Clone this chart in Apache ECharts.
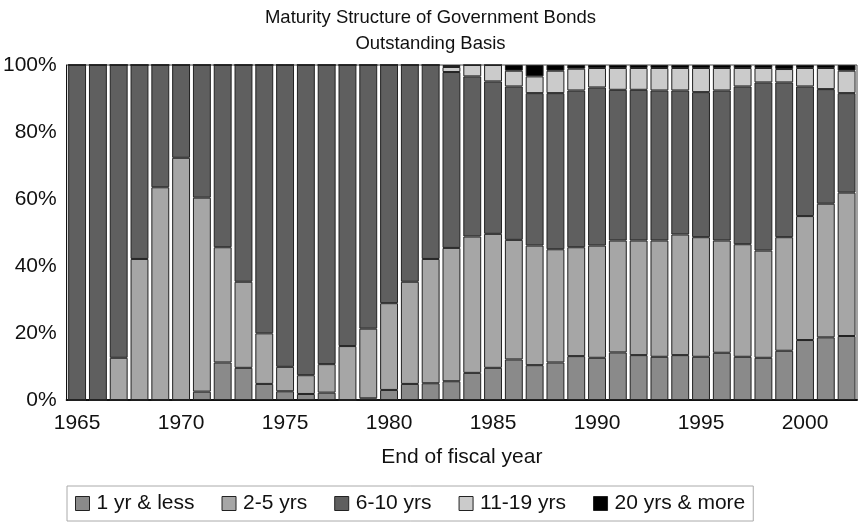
<!DOCTYPE html>
<html>
<head>
<meta charset="utf-8">
<script src="https://cdn.jsdelivr.net/npm/echarts@6/dist/echarts.min.js"></script>
<style>html,body{margin:0;padding:0;background:#fff;}#c{width:861px;height:528px;}</style>
</head>
<body>
<div id="c"></div>
<script>
const years = [];
for (let y = 1965; y <= 2002; y++) years.push(String(y));

const seriesNames = ['1 yr & less', '2-5 yrs', '6-10 yrs', '11-19 yrs', '20 yrs & more'];

const oneYearLess = [0,0,0,0,0,0,2.5,11.2,9.6,4.8,2.6,1.8,2.2,0,0.5,3.0,4.8,5.0,5.6,8.1,9.6,12.1,10.4,11.2,13.1,12.6,14.2,13.4,12.9,13.4,12.9,14.1,12.9,12.6,14.7,17.9,18.7,19.1];
const twoToFive = [0,0,12.6,42.1,63.5,72.3,57.9,34.4,25.7,15.1,7.3,5.6,8.5,16.1,20.8,25.9,30.5,37.1,39.8,40.7,40.0,35.7,35.7,33.8,32.5,33.5,33.4,34.2,34.7,36.0,35.7,33.5,33.6,32.0,33.9,37.0,39.9,42.8];
const sixToTen = [100,100,87.4,57.9,36.5,27.7,39.6,54.4,64.7,80.1,90.1,92.6,89.3,83.9,78.7,71.1,64.7,57.9,52.5,47.8,45.5,45.8,45.5,46.6,46.8,47.2,45.0,45.0,44.8,43.0,43.3,44.8,47.1,50.2,46.2,38.7,34.2,29.7];
const elevenToNineteen = [0,0,0,0,0,0,0,0,0,0,0,0,0,0,0,0,0,0,1.5,3.4,4.9,4.7,5.0,6.7,6.5,5.8,6.5,6.5,6.7,6.7,7.2,6.7,5.5,4.3,4.0,5.5,6.3,6.7];
const twentyPlus = [0,0,0,0,0,0,0,0,0,0,0,0,0,0,0,0,0,0,0.6,0,0,1.7,3.4,1.7,1.1,0.9,0.9,0.9,0.9,0.9,0.9,0.9,0.9,0.9,1.2,0.9,0.9,1.7];

const yTicks = [0, 20, 40, 60, 80, 100];
const colors = ['#8a8a8a', '#a6a6a6', '#5f5f5f', '#cbcbcb', '#000000'];
const seriesData = [oneYearLess, twoToFive, sixToTen, elevenToNineteen, twentyPlus];

const font = 'Liberation Sans, Arial, sans-serif';
const chart = echarts.init(document.getElementById('c'), null, {renderer: 'canvas'});
chart.setOption({
  animation: false,
  backgroundColor: '#ffffff',
  title: {
    text: 'Maturity Structure of Government Bonds\nOutstanding Basis',
    left: 'center',
    top: 0,
    textStyle: {fontFamily: font, fontSize: 18.5, fontWeight: 'normal', color: '#111', lineHeight: 26}
  },
  legend: {
    data: seriesNames,
    icon: 'rect',
    bottom: 7,
    left: 67,
    itemWidth: 14,
    itemHeight: 14,
    itemGap: 27,
    borderColor: '#aaa',
    borderWidth: 1,
    padding: [7, 8, 7, 8],
    textStyle: {fontFamily: font, fontSize: 21, color: '#111', padding: [0, 0, 0, 2]},
    itemStyle: {borderColor: '#222', borderWidth: 1}
  },
  grid: {
    left: 66, right: 4, top: 65, bottom: 128,
    show: true, borderColor: '#444', borderWidth: 1
  },
  xAxis: {
    type: 'category',
    data: years,
    name: 'End of fiscal year',
    nameLocation: 'middle',
    nameGap: 47,
    nameTextStyle: {fontFamily: font, fontSize: 21, color: '#111'},
    axisLine: {lineStyle: {color: '#111', width: 2}},
    axisTick: {show: false},
    axisLabel: {
      fontFamily: font, fontSize: 21, color: '#111', margin: 13,
      interval: 0,
      formatter: function (v) { return (Number(v) % 5 === 0) ? v : ''; }
    }
  },
  yAxis: {
    type: 'value',
    min: 0, max: 100, interval: 20,
    splitLine: {show: false},
    axisLine: {show: true, lineStyle: {color: '#111', width: 1}},
    axisTick: {show: false},
    axisLabel: {
      fontFamily: font, fontSize: 21, color: '#111', margin: 10,
      formatter: function (v) { return yTicks.indexOf(v) >= 0 ? v + '%' : ''; }
    }
  },
  series: seriesNames.map(function (n, i) {
    return {
      name: n,
      type: 'bar',
      stack: 'total',
      barCategoryGap: '14%',
      data: seriesData[i],
      itemStyle: {color: colors[i], borderColor: '#222', borderWidth: 1}
    };
  })
});
</script>
</body>
</html>
